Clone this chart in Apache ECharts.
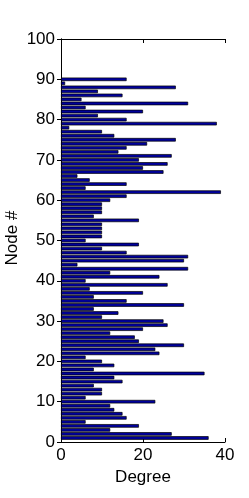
<!DOCTYPE html>
<html>
<head>
<meta charset="utf-8">
<script src="https://cdn.jsdelivr.net/npm/echarts@6/dist/echarts.min.js"></script>
<style>
html,body{margin:0;padding:0;background:#fff;}
#c{width:249px;height:498px;}
</style>
</head>
<body>
<div id="c"></div>
<script>
// Node numbers (y) and their degree (bar length)
const nodes = [1,2,3,4,5,6,7,8,9,10,11,12,13,14,15,16,17,18,19,20,
  21,22,23,24,25,26,27,28,29,30,31,32,33,34,35,36,37,38,39,40,
  41,42,43,44,45,46,47,48,49,50,51,52,53,54,55,56,57,58,59,60,
  61,62,63,64,65,66,67,68,69,70,71,72,73,74,75,76,77,78,79,80,
  81,82,83,84,85,86,87,88,89,90];
const degrees = [36,27,12,19,6,16,15,13,12,23,6,10,10,8,15,13,35,8,13,10,
  6,24,23,30,19,18,12,20,26,25,10,14,8,30,16,8,20,7,26,6,
  24,12,31,4,30,31,16,10,19,6,10,10,10,10,19,8,10,10,10,12,
  16,39,6,16,7,4,25,20,26,19,27,14,16,21,28,13,10,2,38,16,
  9,20,6,31,5,15,9,28,1,16];
const yTickLabels = ['0','10','20','30','40','50','60','70','80','90','100'];
const xTickLabels = ['0','20','40'];
const xLabel = 'Degree';
const yLabel = 'Node #';

// category axis spanning node 0..100
const yMax = Number(yTickLabels[yTickLabels.length - 1]);
const yCats = [];
for (let i = 0; i <= yMax; i++) yCats.push(String(i));
const isTick = (idx) => yTickLabels.indexOf(yCats[idx]) >= 0;

const FONT = 'Liberation Sans, Arial, sans-serif';
const chart = echarts.init(document.getElementById('c'), null, {renderer: 'canvas'});
const catAxis = (pos, showLabel) => ({
  type: 'category',
  position: pos,
  data: yCats,
  boundaryGap: false,
  axisLine: {show: true, lineStyle: {color: '#000', width: 1}},
  axisTick: {show: true, inside: true, length: 4, interval: (i) => isTick(i), lineStyle: {color: '#000'}},
  axisLabel: {show: showLabel, interval: (i) => isTick(i), margin: 6, color: '#000', fontSize: 17, fontFamily: FONT},
  splitLine: {show: false}
});
const valAxis = (pos, showLabel) => ({
  type: 'value',
  position: pos,
  min: Number(xTickLabels[0]),
  max: Number(xTickLabels[xTickLabels.length - 1]),
  interval: Number(xTickLabels[1]) - Number(xTickLabels[0]),
  axisLine: {show: true, lineStyle: {color: '#000', width: 1}},
  axisTick: {show: true, inside: true, length: 4, lineStyle: {color: '#000'}},
  axisLabel: {show: showLabel, margin: 5, color: '#000', fontSize: 17, fontFamily: FONT,
    formatter: (v) => String(v)},
  splitLine: {show: false}
});

chart.setOption({
  animation: false,
  backgroundColor: '#fff',
  grid: {left: 61, right: 24, top: 39, bottom: 56, containLabel: false, outerBoundsMode: 'none'},
  xAxis: [valAxis('bottom', true), valAxis('top', false)],
  yAxis: [catAxis('left', true), catAxis('right', false)],
  series: [{
    type: 'bar',
    xAxisIndex: 0,
    yAxisIndex: 0,
    barWidth: '88%',
    data: nodes.map((n, i) => [degrees[i], n]),
    itemStyle: {color: '#00009C', borderColor: '#000', borderWidth: 0.7}
  }],
  graphic: [
    {type: 'text', x: 143, y: 477, style: {text: xLabel, fontSize: 17, fontFamily: FONT, fill: '#000', align: 'center', verticalAlign: 'middle'}},
    {type: 'text', x: 12, y: 238, rotation: Math.PI / 2, style: {text: yLabel, fontSize: 17, fontFamily: FONT, fill: '#000', align: 'center', verticalAlign: 'middle'}}
  ]
});
</script>
</body>
</html>
